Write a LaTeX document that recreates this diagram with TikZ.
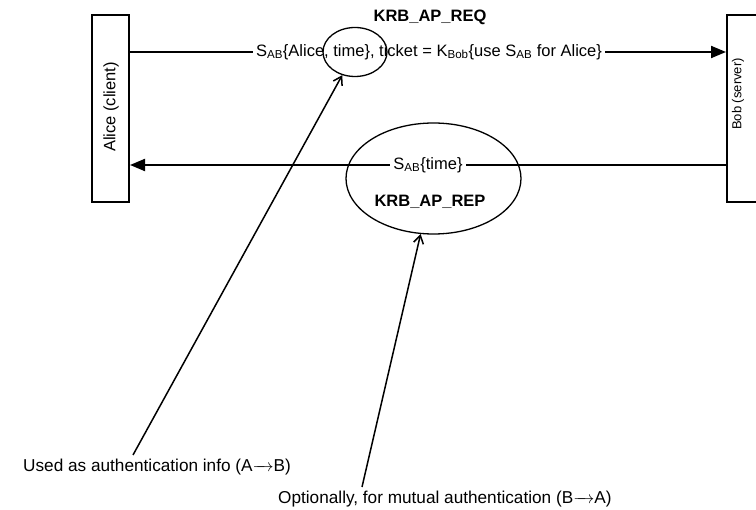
\documentclass[tikz,border=0pt]{standalone}
\usepackage{fontspec}
\setmainfont{Liberation Sans}
\usetikzlibrary{arrows.meta,shapes.geometric}
\newcommand{\longarr}{\hbox to 21pt{\rightarrowfill}}
\begin{document}
\begin{tikzpicture}[x=1pt,y=-1pt,
  lbl/.style={font=\fontsize{16.5}{19}\selectfont, inner sep=0pt},
  notelbl/.style={font=\fontsize{17.2}{20}\selectfont, inner sep=0pt},
  smalllbl/.style={font=\fontsize{13}{15}\selectfont, inner sep=0pt},
  boldlbl/.style={font=\fontsize{16.5}{19}\selectfont\bfseries, inner sep=0pt},
  actor/.style={draw, line width=2pt, minimum width=37pt, minimum height=187pt, inner sep=0pt},
  msg/.style={line width=2pt, -{Triangle[length=15pt,width=12pt]}},
  ring/.style={draw, ellipse, line width=1.3pt, inner sep=0pt},
  note/.style={line width=1.5pt, -{Straight Barb[length=8pt,width=10pt]}},
  cover/.style={fill=white, inner xsep=3pt, inner ysep=1pt}]
\useasboundingbox (0,0) rectangle (756,510);
\clip (0,0) rectangle (756,510);
% actors
\node[actor] (alice) at (110.5,108.5) {};
\node[lbl, rotate=90] (alicetxt) at (111,107) {Alice (client)};
\node[actor] (bob) at (745.5,108.5) {};
\node[smalllbl, rotate=90] (bobtxt) at (738,94) {Bob (server)};
% rows
\coordinate (y1) at (0,52);
\coordinate (y2) at (0,165);
% request
\draw[msg] (alice.east |- y1) -- (bob.west |- y1);
\node[lbl, cover] (req) at (429,52) {S\textsubscript{AB}\{Alice, time\}, ticket = K\textsubscript{Bob}\{use S\textsubscript{AB} for Alice\}};
\node[boldlbl] (reqname) at (430,17) {KRB\_AP\_REQ};
% reply
\draw[msg] (bob.west |- y2) -- (alice.east |- y2);
\node[lbl, cover] (rep) at (428,165) {S\textsubscript{AB}\{time\}};
\node[boldlbl] (repname) at (430,202) {KRB\_AP\_REP};
% ellipses
\node[ring, minimum width=64pt, minimum height=49pt] (small) at (355,52) {};
\node[ring, minimum width=175pt, minimum height=111pt] (big) at (433.5,178.5) {};
% notes
\node[notelbl, anchor=west] (note1) at (23,467) {Used as authentication info (A\longarr B)};
\node[notelbl, anchor=west] (note2) at (278,499) {Optionally, for mutual authentication (B\longarr A)};
\coordinate (c1) at (133,455);
\coordinate (c2) at (362,487);
\draw[note] (c1) -- (small);
\draw[note] (c2) -- (big);
\end{tikzpicture}
\end{document}
